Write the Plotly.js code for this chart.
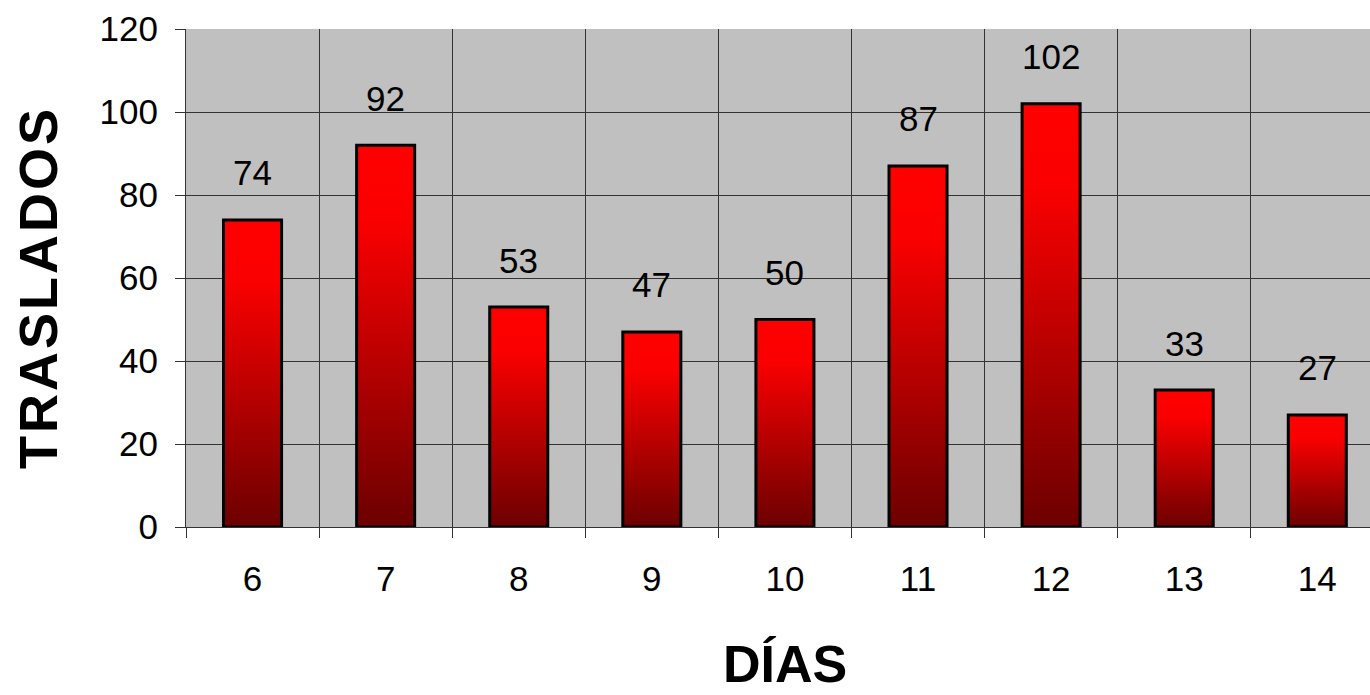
<!DOCTYPE html>
<html>
<head>
<meta charset="utf-8">
<script src="https://cdn.plot.ly/plotly-3.0.1.min.js"></script>
<style>
  html, body { margin: 0; padding: 0; background: #ffffff; }
  #chart { width: 1370px; height: 695px; }
</style>
</head>
<body>
<div id="chart"></div>
<script>
// ---- Data ----
const dias = ['6', '7', '8', '9', '10', '11', '12', '13', '14'];
const traslados = [74, 92, 53, 47, 50, 87, 102, 33, 27];
const yTickValues = [0, 20, 40, 60, 80, 100, 120];
const xTitleText = 'DÍAS';
const yTitleText = 'TRASLADOS';

const FONT = '"Liberation Sans", Arial, Helvetica, sans-serif';
const GRID = '#333333';

const trace = {
  type: 'bar',
  x: dias,
  y: traslados,
  width: 0.436,
  marker: { color: '#ff0000', line: { color: '#000000', width: 3 } },
  hoverinfo: 'x+y'
};

const valueLabels = dias.map((d, i) => ({
  x: i, y: traslados[i], xref: 'x', yref: 'y',
  text: String(traslados[i]), showarrow: false,
  yanchor: 'middle', yshift: 47,
  font: { family: FONT, size: 35, color: '#000000' }
}));

const titleAnnotations = [
  { text: xTitleText, xref: 'paper', yref: 'paper', x: 0.506, y: -0.276,
    xanchor: 'center', yanchor: 'middle', showarrow: false,
    font: { family: FONT, size: 52, color: '#000000', weight: 'bold' } },
  { text: '<span style="letter-spacing:3px">' + yTitleText + '</span>',
    xref: 'paper', yref: 'paper', x: -0.125, y: 0.48,
    xanchor: 'center', yanchor: 'middle', showarrow: false, textangle: -90,
    font: { family: FONT, size: 54, color: '#000000', weight: 'bold' } }
];

const layout = {
  width: 1370, height: 695,
  margin: { l: 186, r: 0, t: 29, b: 168 },
  paper_bgcolor: '#ffffff',
  plot_bgcolor: '#c0c0c0',
  showlegend: false,
  font: { family: FONT, size: 35, color: '#000000' },
  xaxis: {
    type: 'category',
    range: [-0.5, 8.396],
    tickson: 'boundaries',
    ticks: 'outside', ticklen: 10, tickwidth: 1, tickcolor: GRID,
    showgrid: true, gridcolor: GRID, gridwidth: 1,
    showline: true, linecolor: GRID, linewidth: 1,
    ticklabelstandoff: 21,
    tickfont: { family: FONT, size: 35, color: '#000000' },
    fixedrange: true
  },
  yaxis: {
    range: [0, 120],
    tickvals: yTickValues,
    ticks: 'outside', ticklen: 10, tickwidth: 1, tickcolor: GRID,
    showgrid: true, gridcolor: GRID, gridwidth: 1,
    showline: true, linecolor: GRID, linewidth: 1,
    zeroline: false,
    ticklabelstandoff: 10,
    tickfont: { family: FONT, size: 35, color: '#000000' },
    fixedrange: true
  },
  annotations: valueLabels.concat(titleAnnotations)
};

function applyGradient(gd) {
  const svg = gd.querySelector('svg.main-svg');
  if (!svg) return;
  const ns = 'http://www.w3.org/2000/svg';
  let defs = svg.querySelector('defs');
  if (!defs) { defs = document.createElementNS(ns, 'defs'); svg.insertBefore(defs, svg.firstChild); }
  if (!svg.querySelector('#redgrad')) {
    const lg = document.createElementNS(ns, 'linearGradient');
    lg.setAttribute('id', 'redgrad');
    lg.setAttribute('x1', '0'); lg.setAttribute('y1', '0');
    lg.setAttribute('x2', '0'); lg.setAttribute('y2', '1');
    [['0%', '#ff0000'], ['20%', '#fa0000'], ['100%', '#6c0000']].forEach(([o, c]) => {
      const s = document.createElementNS(ns, 'stop');
      s.setAttribute('offset', o); s.setAttribute('stop-color', c);
      lg.appendChild(s);
    });
    defs.appendChild(lg);
  }
  gd.querySelectorAll('.barlayer .point path').forEach(p => {
    p.style.fill = 'url(#redgrad)';
  });
}

const gd = document.getElementById('chart');
Plotly.newPlot(gd, [trace], layout, { displayModeBar: false, staticPlot: true })
  .then(() => applyGradient(gd));
</script>
</body>
</html>
